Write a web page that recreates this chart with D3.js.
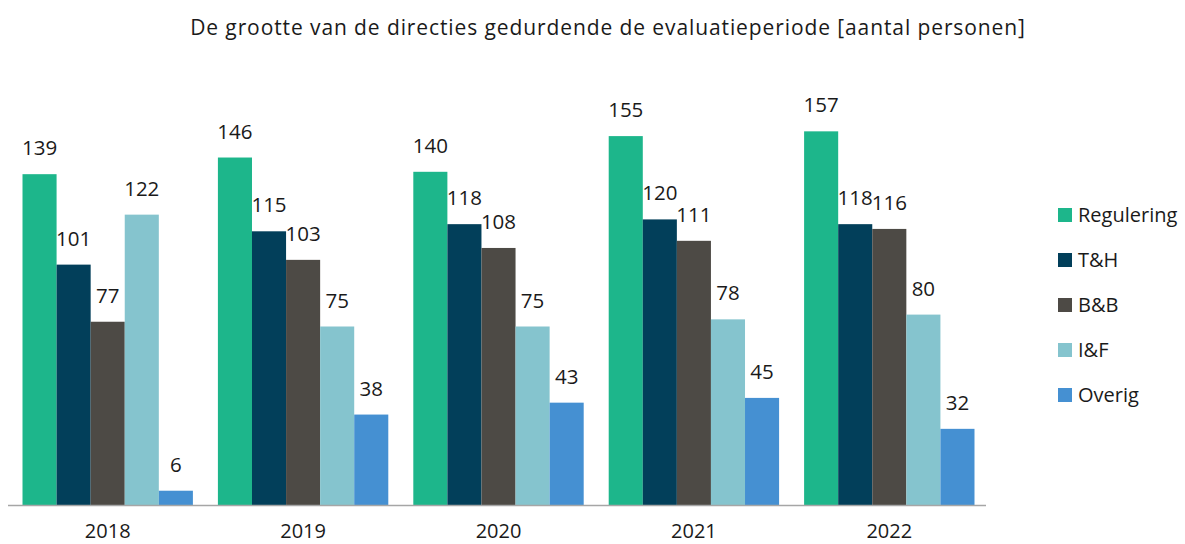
<!DOCTYPE html>
<html>
<head>
<meta charset="utf-8">
<script src="https://cdn.jsdelivr.net/npm/d3@7"></script>
<style>
  body { margin: 0; background: #fff; }
  text { font-family: "Open Sans", sans-serif; fill: #1a1a1a; }
</style>
</head>
<body>
<div id="chart"></div>
<script>
/* data */
var years  = ['2018', '2019', '2020', '2021', '2022'];
var series = ['Regulering', 'T&H', 'B&B', 'I&F', 'Overig'];
var colors = ['#1db68b', '#023f5a', '#4d4a45', '#85c4ce', '#4590d2'];
var values = [
  [139, 101,  77, 122,  6],
  [146, 115, 103,  75, 38],
  [140, 118, 108,  75, 43],
  [155, 120, 111,  78, 45],
  [157, 118, 116,  80, 32]
];

(function drawChart() {
  var W = 1185, H = 544;
  var svg = d3.select('#chart').append('svg')
    .attr('width', W).attr('height', H);

  var baseY = 505;

  var x0 = d3.scaleBand().domain(years).range([10, 987]).paddingInner(0.128).paddingOuter(0.064);
  var x1 = d3.scaleBand().domain(series).range([0, x0.bandwidth()]);
  var y  = d3.scaleLinear().domain([0, 200]).range([baseY, baseY - 476]);

  /* title */
  svg.append('text')
    .attr('x', 608).attr('y', 35)
    .attr('text-anchor', 'middle')
    .style('font-size', '21px')
    .style('letter-spacing', '0.9px')
    .text('De grootte van de directies gedurdende de evaluatieperiode [aantal personen]');

  /* bars */
  var g = svg.selectAll('g.year')
    .data(values)
    .enter().append('g')
    .attr('class', 'year')
    .attr('transform', function (d, i) { return 'translate(' + x0(years[i]) + ',0)'; });

  g.selectAll('rect')
    .data(function (d) { return d; })
    .enter().append('rect')
    .attr('x', function (d, j) { return x1(series[j]); })
    .attr('y', function (d) { return y(d); })
    .attr('width', x1.bandwidth())
    .attr('height', function (d) { return baseY - y(d); })
    .attr('fill', function (d, j) { return colors[j]; });

  g.selectAll('text.val')
    .data(function (d) { return d; })
    .enter().append('text')
    .attr('class', 'val')
    .attr('x', function (d, j) { return x1(series[j]) + x1.bandwidth() / 2; })
    .attr('y', function (d) { return y(d) - 19; })
    .attr('text-anchor', 'middle')
    .style('font-size', '20.5px')
    .text(function (d) { return d; });

  /* axis */
  var xAxis = d3.axisBottom(x0).tickSize(0).tickPadding(19);
  var ax = svg.append('g')
    .attr('transform', 'translate(0,' + baseY + ')')
    .call(xAxis);
  ax.select('.domain').remove();
  ax.selectAll('text').style('font-size', '20px').style('font-family', '"Open Sans", sans-serif').attr('fill', '#1a1a1a');
  svg.append('line')
    .attr('x1', 8).attr('x2', 986)
    .attr('y1', baseY + 0.5).attr('y2', baseY + 0.5)
    .attr('stroke', '#a6a6a6').attr('stroke-width', 1.5);

  /* legend */
  var leg = svg.selectAll('g.leg')
    .data(series)
    .enter().append('g')
    .attr('class', 'leg')
    .attr('transform', function (d, i) { return 'translate(1058,' + (215 + i * 45) + ')'; });
  leg.append('rect')
    .attr('x', 0).attr('y', -7).attr('width', 14).attr('height', 14)
    .attr('fill', function (d, i) { return colors[i]; });
  leg.append('text')
    .attr('x', 20).attr('y', 0).attr('dy', '0.35em')
    .style('font-size', '20px')
    .text(function (d) { return d; });
}());
</script>
</body>
</html>
